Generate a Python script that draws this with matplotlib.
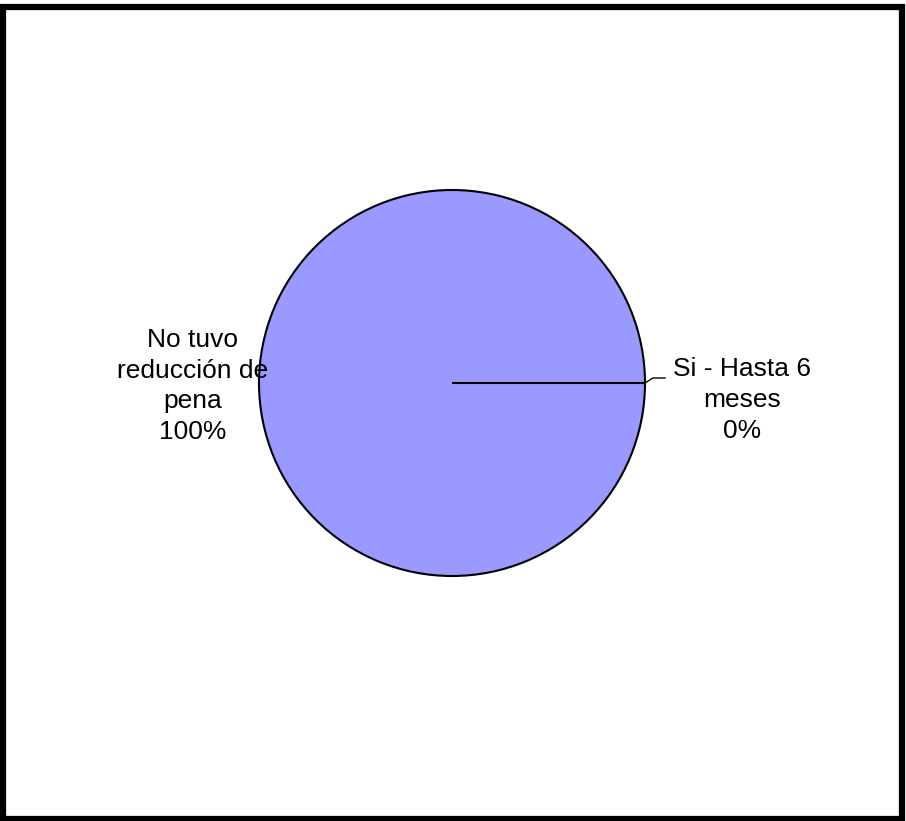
import numpy as np
import matplotlib
matplotlib.use("Agg")
import matplotlib.pyplot as plt
from matplotlib.patches import Rectangle

# Survey answers: reduction of sentence
labels = ["No tuvo\nreducción de\npena", "Si - Hasta 6\nmeses"]
values = [100, 0]
colors = ["#9999FF", "#993366"]

plt.rcParams["font.family"] = ["Liberation Sans", "DejaVu Sans"]

W, H = 906, 821
fig = plt.figure(figsize=(W / 100, H / 100), dpi=100)
fig.patch.set_facecolor("white")

# square axes holding a unit-radius pie
cx, cy, r = 452, 383, 193
ax = fig.add_axes([(cx - r) / W, (H - cy - r) / H, 2 * r / W, 2 * r / H])

wedges, _ = ax.pie(values, colors=colors, startangle=0, counterclock=True,
                   radius=1, wedgeprops=dict(edgecolor="black", linewidth=1.5))
# pie() pads the limits, pull them back to the unit circle
ax.set_xlim(-1, 1)
ax.set_ylim(-1, 1)
ax.set_aspect("equal")
ax.axis("off")

total = sum(values)
pcts = [f"{v / total * 100:.0f}%" for v in values]

# big slice label on the left
ax.text(-1.342, -0.016, f"{labels[0]}\n{pcts[0]}", ha="center", va="center",
        fontsize=19, linespacing=1.35, color="black")

# zero slice: leader line from its edge
ang = np.deg2rad(wedges[1].theta1)
x0, y0 = np.cos(ang), np.sin(ang)
ax.plot([x0, 1.041, 1.104], [y0, 0.026, 0.026], color="black", lw=1.0,
        clip_on=False)
ax.text(1.503, -0.088, f"{labels[1]}\n{pcts[1]}", ha="center", va="center",
        fontsize=19, linespacing=1.35, color="black")

# thick outer frame
fig.patches.append(Rectangle((3 / W, 2 / H), 899 / W, 812 / H,
                             transform=fig.transFigure, fill=False,
                             edgecolor="black", linewidth=4.5))

fig.savefig("out.png", dpi=100)
